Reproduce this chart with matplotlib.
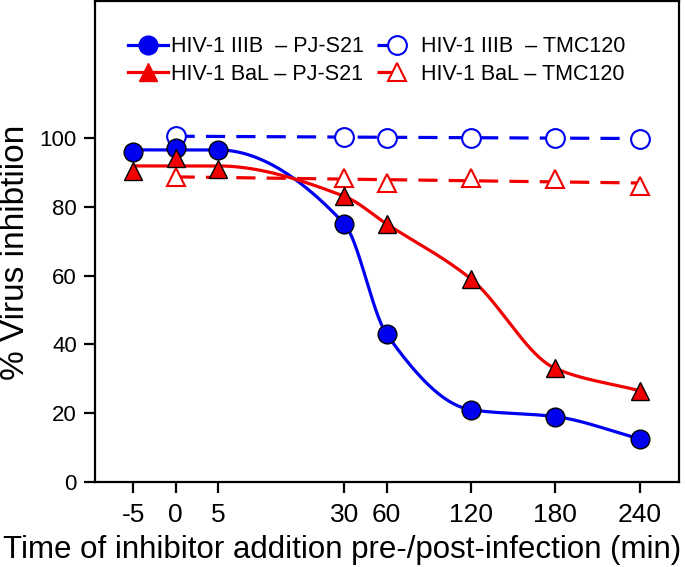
import numpy as np
import matplotlib.pyplot as plt

plt.rcParams['font.family'] = ['Liberation Sans', 'DejaVu Sans']

# time points (min) and where they sit on the (non-linear) x axis
times = ['-5', '0', '5', '30', '60', '120', '180', '240']
x_pos = [0, 1, 2, 5, 6, 8, 10, 12]

# % virus inhibition
iiib_pjs21 = [96, 97, 96.5, 75, 43, 21, 19, 12.5]
bal_pjs21 = [90.5, 94, 91, 83, 75, 59, 33, 26.5]

tmc_times = ['0', '30', '60', '120', '180', '240']
iiib_tmc120 = [100.5, 100.3, 100, 100, 100, 99.8]
bal_tmc120 = [88.5, 88.3, 87, 88.3, 88, 86]

tmc_pos = [x_pos[times.index(t)] for t in tmc_times]


def pchip(x, y, xn):
    # monotone cubic interpolation (Fritsch-Carlson)
    x = np.asarray(x, float)
    y = np.asarray(y, float)
    h = np.diff(x)
    d = np.diff(y) / h
    m = np.zeros_like(y)
    for k in range(1, len(x) - 1):
        if d[k - 1] * d[k] > 0:
            w1 = 2 * h[k] + h[k - 1]
            w2 = h[k] + 2 * h[k - 1]
            m[k] = (w1 + w2) / (w1 / d[k - 1] + w2 / d[k])
    m[0] = d[0]
    m[-1] = d[-1]
    out = np.empty_like(xn)
    for i, xv in enumerate(xn):
        k = min(np.searchsorted(x, xv, side='right') - 1, len(x) - 2)
        k = max(k, 0)
        t = (xv - x[k]) / h[k]
        h00 = 2 * t**3 - 3 * t**2 + 1
        h10 = t**3 - 2 * t**2 + t
        h01 = -2 * t**3 + 3 * t**2
        h11 = t**3 - t**2
        out[i] = h00 * y[k] + h10 * h[k] * m[k] + h01 * y[k + 1] + h11 * h[k] * m[k + 1]
    return out


def smooth_curve(y):
    # pre-infection points averaged into a plateau, then a smooth curve
    ys = np.array(y, float)
    ys[:3] = np.mean(ys[:3])
    xs = np.linspace(x_pos[0], x_pos[-1], 400)
    return xs, pchip(x_pos, ys, xs)


fig = plt.figure(figsize=(6.85, 5.67), dpi=100)
ax = fig.add_axes([0.1387, 0.1499, 0.8525, 0.848])

blue = '#0000f0'
red = '#f00000'

# fitted curves
xs, yb = smooth_curve(iiib_pjs21)
ax.plot(xs, yb, color=blue, lw=2.3, zorder=2)
xs, yr = smooth_curve(bal_pjs21)
ax.plot(xs, yr, color=red, lw=2.3, zorder=2)

# linear trend for TMC120
for vals, col in [(iiib_tmc120, blue), (bal_tmc120, red)]:
    k, b = np.polyfit(tmc_pos, vals, 1)
    xl = np.array([tmc_pos[0], tmc_pos[-1]])
    ax.plot(xl, k * xl + b, color=col, lw=2.3, dashes=(6, 3.5), zorder=1)

ms = 13.5
ax.plot(tmc_pos, iiib_tmc120, 'o', ms=ms, mfc='white', mec=blue, mew=1.5, zorder=3)
ax.plot(tmc_pos, bal_tmc120, '^', ms=ms, mfc='white', mec=red, mew=1.5, zorder=3)
ax.plot(x_pos, iiib_pjs21, 'o', ms=ms, mfc=blue, mec='black', mew=1.0, zorder=4)
ax.plot(x_pos, bal_pjs21, '^', ms=ms, mfc=red, mec='black', mew=1.0, zorder=4)

# legend handles
h1, = ax.plot([], [], '-o', color=blue, lw=2.3, ms=ms, mfc=blue, mec=blue)
h2, = ax.plot([], [], '-^', color=red, lw=2.3, ms=ms, mfc=red, mec=red)
h3, = ax.plot([], [], 'o', color=blue, lw=2.3, dashes=(4.5, 19), ms=ms, mfc='white', mec=blue, mew=1.5)
h4, = ax.plot([], [], '^', color=red, lw=2.3, dashes=(4.5, 19), ms=ms, mfc='white', mec=red, mew=1.5)
ax.legend([h1, h2, h3, h4],
          ['HIV-1 IIIB  \u2013 PJ-S21', 'HIV-1 BaL \u2013 PJ-S21',
           'HIV-1 IIIB  \u2013 TMC120', 'HIV-1 BaL \u2013 TMC120'],
          ncol=2, loc='upper left', bbox_to_anchor=(0.0565, 0.927), frameon=False,
          fontsize=15.5, handlelength=1.87, handletextpad=0.15, columnspacing=0.6,
          labelspacing=0.3, borderaxespad=0, borderpad=0)

ax.set_xlim(-0.91, 12.93)
ax.set_ylim(0, 139.7)
ax.set_xticks(x_pos)
ax.set_xticklabels(times)
ax.set_yticks([0, 20, 40, 60, 80, 100])
ax.tick_params(direction='out', length=8, width=1.6, pad=5)
ax.tick_params(axis='x', labelsize=19, pad=7)
ax.tick_params(axis='y', labelsize=16)
for s in ax.spines.values():
    s.set_linewidth(1.6)

ax.set_xlabel('Time of inhibitor addition pre-/post-infection (min)', fontsize=22.5)
ax.xaxis.set_label_coords(0.424, -0.11)
ax.set_ylabel('% Virus inhibtiion', fontsize=24)
ax.yaxis.set_label_coords(-0.11, 0.478)

fig.savefig('out.png', dpi=100)
